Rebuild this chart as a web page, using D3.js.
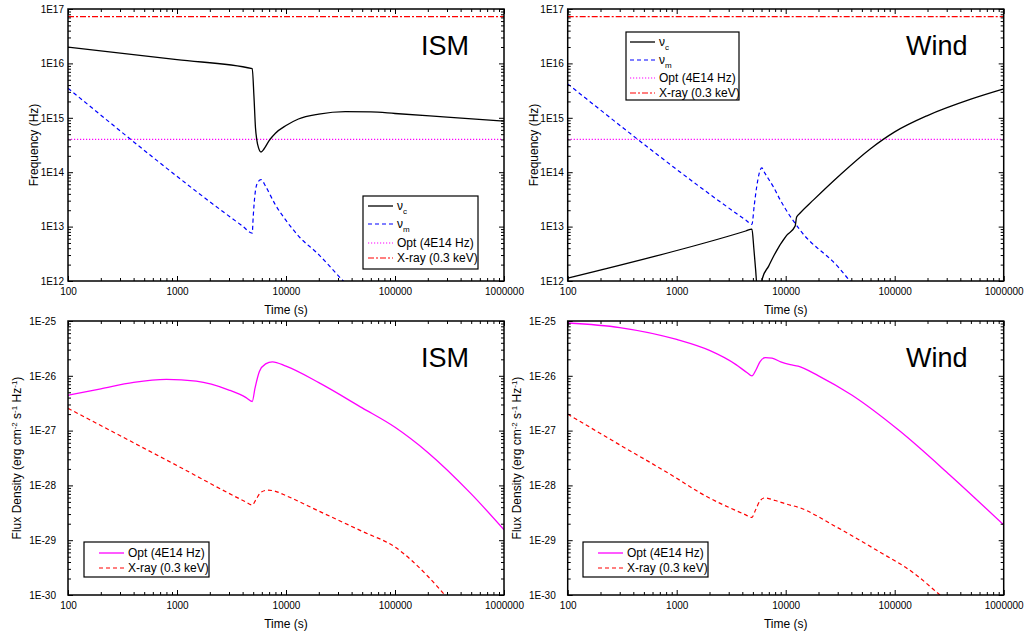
<!DOCTYPE html>
<html>
<head>
<meta charset="utf-8">
<script src="https://cdn.jsdelivr.net/npm/d3@7"></script>
<style>
body { margin: 0; background: #fff; }
text { font-family: "Liberation Sans", Arial, sans-serif; fill: #000; }
</style>
</head>
<body>
<div id="chart"></div>
<script>
// ---- data ----
var timeTicks = [100, 1000, 10000, 100000, 1000000];
var freqTicks = [1e12, 1e13, 1e14, 1e15, 1e16, 1e17];
var fluxTicks = [1e-30, 1e-29, 1e-28, 1e-27, 1e-26, 1e-25];
var optFreq = 4e14;      // Opt (4E14 Hz)
var xrayFreq = 7.25e16;  // X-ray (0.3 keV)

// break frequencies, ISM  [time (s), frequency (Hz)]
var ismNuC = [[100, 2.0e16], [1000, 1.17e16], [4900, 8.0e15], [5080, 2.5e15], [5250, 6.5e14],
  [5400, 3.9e14], [5600, 2.8e14], [5900, 2.35e14], [6300, 2.7e14], [7000, 3.8e14], [8000, 5.2e14],
  [10000, 7.2e14], [13000, 9.5e14], [20000, 1.17e15], [35000, 1.3e15], [60000, 1.28e15],
  [100000, 1.2e15], [300000, 1.03e15], [1000000, 8.7e14]];
var ismNuM = [[100, 3.5e15], [4000, 1.02e13], [4900, 7.6e12], [5000, 1.5e13], [5200, 4.0e13],
  [5500, 6.5e13], [5900, 7.3e13], [6500, 5.5e13], [8000, 2.5e13], [10000, 1.3e13],
  [13400, 6.3e12], [19200, 3.3e12], [33500, 1.0e12], [50000, 4.5e11]];

// break frequencies, wind
var windNuC = [[100, 1.13e12], [4300, 8.3e12], [4900, 9.0e12], [5100, 4.0e12], [5300, 1.6e12],
  [5450, 8.5e11], [5950, 8.5e11], [6100, 1.1e12], [7000, 1.9e12], [7700, 2.8e12], [10200, 6.9e12],
  [12200, 1.02e13], [12600, 1.5e13], [13500, 1.76e13], [18000, 3.1e13], [31500, 8.9e13],
  [60000, 2.7e14], [100000, 5.5e14], [200000, 1.1e15], [500000, 2.2e15], [1000000, 3.4e15]];
var windNuM = [[100, 4.2e15], [4300, 1.32e13], [4900, 1.1e13], [5150, 2.5e13], [5420, 5.4e13],
  [5750, 1.0e14], [6030, 1.2e14], [6460, 9.5e13], [7700, 5.4e13], [8900, 3.1e13],
  [13500, 8.7e12], [30400, 1.8e12], [39000, 1.0e12], [50000, 6.0e11]];

// light curves, ISM  [time (s), flux density]
var ismOpt = [[100, 4.4e-27], [200, 5.8e-27], [400, 7.6e-27], [800, 8.6e-27], [1500, 8.0e-27],
  [3000, 5.5e-27], [4300, 4.0e-27], [4900, 3.4e-27], [5200, 6.0e-27], [5700, 1.2e-26],
  [6500, 1.65e-26], [7500, 1.8e-26], [10000, 1.5e-26], [20000, 7.5e-27], [50000, 2.6e-27],
  [100000, 1.15e-27], [200000, 4.0e-28], [500000, 7.0e-29], [1000000, 1.55e-29]];
var ismXray = [[100, 2.55e-27], [1000, 2.3e-28], [4200, 5.1e-29], [4900, 4.4e-29], [5300, 5.5e-29],
  [5900, 7.5e-29], [6800, 8.2e-29], [8000, 7.8e-29], [10000, 6.5e-29], [20000, 3.4e-29],
  [50000, 1.45e-29], [100000, 7.5e-30], [200000, 2.2e-30], [300000, 9.0e-31]];

// light curves, wind
var windOpt = [[100, 9.2e-26], [300, 7.6e-26], [1000, 4.6e-26], [2000, 2.9e-26], [3500, 1.6e-26],
  [4400, 1.15e-26], [4900, 1.0e-26], [5300, 1.25e-26], [5800, 1.8e-26], [6500, 2.15e-26],
  [7500, 2.1e-26], [9000, 1.8e-26], [11000, 1.6e-26], [13000, 1.5e-26], [20000, 1.0e-26],
  [40000, 4.5e-27], [110000, 1.0e-27], [320000, 1.55e-28], [1000000, 1.9e-29]];
var windXray = [[100, 2.0e-27], [250, 6.8e-28], [1000, 1.35e-28], [1640, 7.3e-29], [4300, 2.9e-29],
  [4880, 2.6e-29], [5300, 3.6e-29], [5800, 5.2e-29], [6400, 5.9e-29], [8000, 5.3e-29],
  [10000, 4.6e-29], [13500, 3.9e-29], [27000, 1.9e-29], [68000, 6.6e-30], [150000, 2.5e-30],
  [260000, 1.0e-30], [350000, 6.0e-31]];

// ---- drawing ----
var width = 1027, height = 635;
var svg = d3.select("#chart").append("svg").attr("width", width).attr("height", height);

var tRange = d3.extent(timeTicks);
function flat(v) { return [[tRange[0], v], [tRange[1], v]]; }

var sty = {
  nuc:  { color: "#000000", dash: null, width: 1.3 },
  num:  { color: "#0000ff", dash: "4,3", width: 1.2 },
  optH: { color: "#ff00ff", dash: "1.2,1.8", width: 1.2 },
  xrH:  { color: "#ff0000", dash: "6,2,2,2", width: 1.2 },
  opt:  { color: "#ff00ff", dash: null, width: 1.3 },
  xr:   { color: "#ff0000", dash: "4,3", width: 1.2 }
};
function s(data, st) { return { data: data, color: st.color, dash: st.dash, width: st.width }; }

function expLabel(d) { return "1E" + Math.round(Math.log10(d)); }

var panels = [
  { id: "tl", x0: 68, x1: 504, y0: 9, y1: 281, yTicks: freqTicks, yPad: 4,
    yTitle: "freq", title: "ISM", titleX: 421, titleY: 55,
    series: [s(flat(xrayFreq), sty.xrH), s(flat(optFreq), sty.optH), s(ismNuM, sty.num), s(ismNuC, sty.nuc)],
    legend: { x: 363, y: 196, w: 115, h: 73, lx: 368, tx: 397, rows: [206, 224, 243, 258], kind: "freq" } },
  { id: "tr", x0: 567.7, x1: 1003.7, y0: 9, y1: 281, yTicks: freqTicks, yPad: 4,
    yTitle: "freq", title: "Wind", titleX: 906, titleY: 55,
    series: [s(flat(xrayFreq), sty.xrH), s(flat(optFreq), sty.optH), s(windNuM, sty.num), s(windNuC, sty.nuc)],
    legend: { x: 626, y: 32, w: 113, h: 68, lx: 630, tx: 659, rows: [42, 60, 78, 93], kind: "freq" } },
  { id: "bl", x0: 68, x1: 504, y0: 321, y1: 595, yTicks: fluxTicks, yPad: 12,
    yTitle: "flux", title: "ISM", titleX: 421, titleY: 367,
    series: [s(ismXray, sty.xr), s(ismOpt, sty.opt)],
    legend: { x: 84, y: 542, w: 125, h: 35, lx: 99, tx: 128, rows: [553, 568], kind: "flux" } },
  { id: "br", x0: 567.7, x1: 1003.7, y0: 321, y1: 595, yTicks: fluxTicks, yPad: 12,
    yTitle: "flux", title: "Wind", titleX: 906, titleY: 367,
    series: [s(windXray, sty.xr), s(windOpt, sty.opt)],
    legend: { x: 583, y: 542, w: 125, h: 35, lx: 598, tx: 627, rows: [553, 568], kind: "flux" } }
];

panels.forEach(function(p) {
  var x = d3.scaleLog().domain(tRange).range([p.x0, p.x1]);
  var y = d3.scaleLog().domain(d3.extent(p.yTicks)).range([p.y1, p.y0]);
  var xMinor = x.ticks().filter(function(d) { return timeTicks.indexOf(d) < 0; });
  var yMinor = y.ticks().filter(function(d) {
    return Math.abs(Math.log10(d) - Math.round(Math.log10(d))) > 1e-6;
  });

  svg.append("clipPath").attr("id", "clip-" + p.id)
    .append("rect").attr("x", p.x0).attr("y", p.y0)
    .attr("width", p.x1 - p.x0).attr("height", p.y1 - p.y0);

  var line = d3.line()
    .x(function(d) { return x(d[0]); })
    .y(function(d) { return y(d[1]); })
    .curve(d3.curveMonotoneX);

  svg.append("g").attr("clip-path", "url(#clip-" + p.id + ")")
    .selectAll("path").data(p.series).enter().append("path")
    .attr("d", function(d) { return line(d.data); })
    .attr("fill", "none")
    .attr("stroke", function(d) { return d.color; })
    .attr("stroke-width", function(d) { return d.width; })
    .attr("stroke-dasharray", function(d) { return d.dash; });

  // axes: ticks point inward on all four sides
  function ax(axis, major, minor, tr, fmt, pad) {
    var gMaj = svg.append("g").attr("transform", tr)
      .call(axis.tickValues(major).tickFormat(fmt).tickSizeInner(-5).tickSizeOuter(0).tickPadding(pad));
    gMaj.select(".domain").remove();
    gMaj.selectAll("text").style("font-size", "10px").style("font-family", null);
    var gMin = svg.append("g").attr("transform", tr)
      .call(axis.tickValues(minor).tickFormat("").tickSizeInner(-3).tickSizeOuter(0));
    gMin.select(".domain").remove();
    svg.selectAll(".tick line").attr("stroke-width", 1);
  }
  ax(d3.axisBottom(x), timeTicks, xMinor, "translate(0," + p.y1 + ")", d3.format("d"), 7);
  ax(d3.axisTop(x), timeTicks, xMinor, "translate(0," + p.y0 + ")", "", 3);
  ax(d3.axisLeft(y), p.yTicks, yMinor, "translate(" + p.x0 + ",0)", expLabel, p.yPad);
  ax(d3.axisRight(y), p.yTicks, yMinor, "translate(" + p.x1 + ",0)", "", 3);

  svg.append("rect").attr("x", p.x0).attr("y", p.y0)
    .attr("width", p.x1 - p.x0).attr("height", p.y1 - p.y0)
    .attr("fill", "none").attr("stroke", "#000").attr("stroke-width", 1.5);

  // axis titles
  svg.append("text").attr("x", (p.x0 + p.x1) / 2).attr("y", p.y1 + 33)
    .attr("text-anchor", "middle").style("font-size", "12px").text("Time (s)");

  var yt = svg.append("text").attr("text-anchor", "middle").style("font-size", "12px");
  if (p.yTitle === "freq") {
    yt.attr("transform", "translate(" + (p.x0 - 30) + "," + ((p.y0 + p.y1) / 2) + ") rotate(-90)")
      .text("Frequency (Hz)");
  } else {
    yt.attr("transform", "translate(" + (p.x0 - 47) + "," + ((p.y0 + p.y1) / 2) + ") rotate(-90)");
    var parts = [["Flux Density (erg cm", 0], ["-2", -4], [" s", 4], ["-1", -4], [" Hz", 4], ["-1", -4], [")", 4]];
    parts.forEach(function(q) {
      yt.append("tspan").attr("dy", q[1])
        .style("font-size", q[1] < 0 ? "8px" : "12px").text(q[0]);
    });
  }

  svg.append("text").attr("x", p.titleX).attr("y", p.titleY)
    .style("font-size", "27px").text(p.title);

  // legend
  var L = p.legend;
  svg.append("rect").attr("x", L.x).attr("y", L.y).attr("width", L.w).attr("height", L.h)
    .attr("fill", "#fff").attr("stroke", "#000").attr("stroke-width", 1.2);
  var items = L.kind === "freq"
    ? [{ st: sty.nuc, base: "\u03bd", sub: "c" }, { st: sty.num, base: "\u03bd", sub: "m" },
       { st: sty.optH, base: "Opt (4E14 Hz)" }, { st: sty.xrH, base: "X-ray (0.3 keV)" }]
    : [{ st: sty.opt, base: "Opt (4E14 Hz)" }, { st: sty.xr, base: "X-ray (0.3 keV)" }];
  var leg = svg.selectAll(".leg-" + p.id).data(items).enter().append("g")
    .attr("class", "leg-" + p.id)
    .attr("transform", function(d, i) { return "translate(0," + L.rows[i] + ")"; });
  leg.append("line").attr("x1", L.lx).attr("x2", L.lx + 25).attr("y1", 0).attr("y2", 0)
    .attr("stroke", function(d) { return d.st.color; })
    .attr("stroke-width", function(d) { return d.st.width; })
    .attr("stroke-dasharray", function(d) { return d.st.dash; });
  var lt = leg.append("text").attr("x", L.tx).attr("y", 4).style("font-size", "12px");
  lt.append("tspan").text(function(d) { return d.base; });
  lt.filter(function(d) { return d.sub; }).append("tspan")
    .attr("dy", 4).style("font-size", "8px").text(function(d) { return d.sub; });
});
</script>
</body>
</html>
